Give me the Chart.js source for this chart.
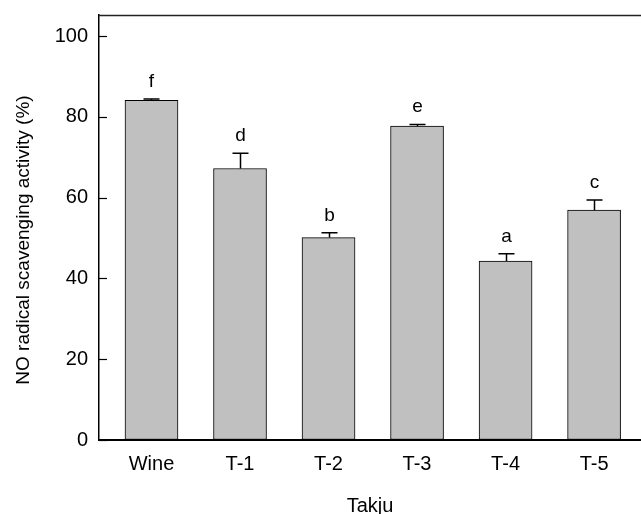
<!DOCTYPE html>
<html>
<head>
<meta charset="utf-8">
<script src="https://cdn.jsdelivr.net/npm/chart.js@4.4.0/dist/chart.umd.min.js"></script>
<style>
  html, body { margin: 0; padding: 0; background: #fff; overflow: hidden; }
</style>
</head>
<body>
<canvas id="chart" width="641" height="514"></canvas>
<script>
// ---- data ----
const categories = [ 'Wine', 'T-1', 'T-2', 'T-3', 'T-4', 'T-5' ];
const activity   = [ 84.1, 67.2, 50.1, 77.7, 44.3, 56.9 ];
const errors     = [ 0.3, 3.8, 1.2, 0.4, 1.8, 2.5 ];
const letters    = [ 'f', 'd', 'b', 'e', 'a', 'c' ];
const yTicks     = [ 0, 20, 40, 60, 80, 100 ];

const FONT = 'Liberation Sans, Arial, Helvetica, sans-serif';
const Y_TITLE = 'NO radical scavenging activity (%)';

// error bars, significance letters, top frame line, inward y ticks, y title
const extras = {
    id: 'extras',
    afterDatasetsDraw( chart ) {
        const { ctx, chartArea: a, scales: { x, y } } = chart;
        ctx.save();
        ctx.strokeStyle = '#000';
        ctx.lineWidth = 1.5;
        ctx.fillStyle = '#000';
        ctx.font = '19px ' + FONT;
        ctx.textAlign = 'center';
        ctx.textBaseline = 'alphabetic';
        activity.forEach( ( v, i ) => {
            const px = Math.round( x.getPixelForValue( i ) ) + 0.5;
            const base = y.getPixelForValue( v );
            const top = y.getPixelForValue( v + errors[ i ] );
            ctx.beginPath();
            ctx.moveTo( px, base );
            ctx.lineTo( px, top );
            ctx.moveTo( px - 8, top );
            ctx.lineTo( px + 8, top );
            ctx.stroke();
            ctx.fillText( letters[ i ], px, top - 12 );
        });
        // top line of the frame
        ctx.strokeStyle = '#222';
        ctx.beginPath();
        ctx.moveTo( a.left, a.top + 0.5 );
        ctx.lineTo( a.right, a.top + 0.5 );
        ctx.stroke();
        // y ticks pointing inward
        ctx.strokeStyle = '#000';
        ctx.lineWidth = 1.2;
        yTicks.forEach( t => {
            const py = Math.round( y.getPixelForValue( t ) ) + 0.5;
            ctx.beginPath();
            ctx.moveTo( a.left, py );
            ctx.lineTo( a.left + 8, py );
            ctx.stroke();
        });
        // y axis title, centred on the 0-100 range
        const midY = ( y.getPixelForValue( yTicks[ 0 ] ) + y.getPixelForValue( yTicks[ yTicks.length - 1 ] ) ) / 2;
        ctx.translate( 24, midY + 2 );
        ctx.rotate( -Math.PI / 2 );
        ctx.textBaseline = 'middle';
        ctx.fillText( Y_TITLE, 0, 0 );
        ctx.restore();
    }
};

const chart = new Chart( document.getElementById( 'chart' ), {
    type: 'bar',
    data: {
        datasets: [
            {
                data: activity.map( ( v, i ) => ({ x: i, y: v }) ),
                backgroundColor: '#c0c0c0',
                borderColor: '#000',
                borderWidth: 1,
                borderSkipped: false,
                barThickness: 53
            }
        ]
    },
    options: {
        responsive: false,
        animation: false,
        layout: { padding: { top: 15, right: 0, bottom: 0, left: 0 } },
        plugins: { legend: { display: false }, tooltip: { enabled: false } },
        scales: {
            x: {
                type: 'linear',
                offset: false,
                min: -0.593,
                max: 5.53,
                afterBuildTicks: s => { s.ticks = categories.map( ( c, i ) => ({ value: i }) ); },
                afterFit: s => { s.height = 74; },
                ticks: {
                    callback: v => categories[ v ],
                    font: { family: FONT, size: 20 },
                    color: '#000',
                    padding: 12,
                    maxRotation: 0,
                    autoSkip: false
                },
                grid: { display: true, offset: false, drawOnChartArea: false, drawTicks: false },
                border: { display: true, color: '#000', width: 2 },
                title: {
                    display: true,
                    text: 'Takju',
                    font: { family: FONT, size: 20 },
                    color: '#000',
                    padding: { top: 0, bottom: -4 }
                }
            },
            y: {
                min: 0,
                max: 105.2,
                afterBuildTicks: s => { s.ticks = yTicks.map( v => ({ value: v }) ); },
                afterFit: s => { s.width = 99; s.paddingTop = 0; s.paddingBottom = 0; },
                ticks: {
                    font: { family: FONT, size: 20 },
                    color: '#000',
                    padding: 11
                },
                grid: { display: true, drawOnChartArea: false, drawTicks: false },
                border: { display: true, color: '#000', width: 1.5 }
            }
        }
    },
    plugins: [ extras ]
});
</script>
</body>
</html>
